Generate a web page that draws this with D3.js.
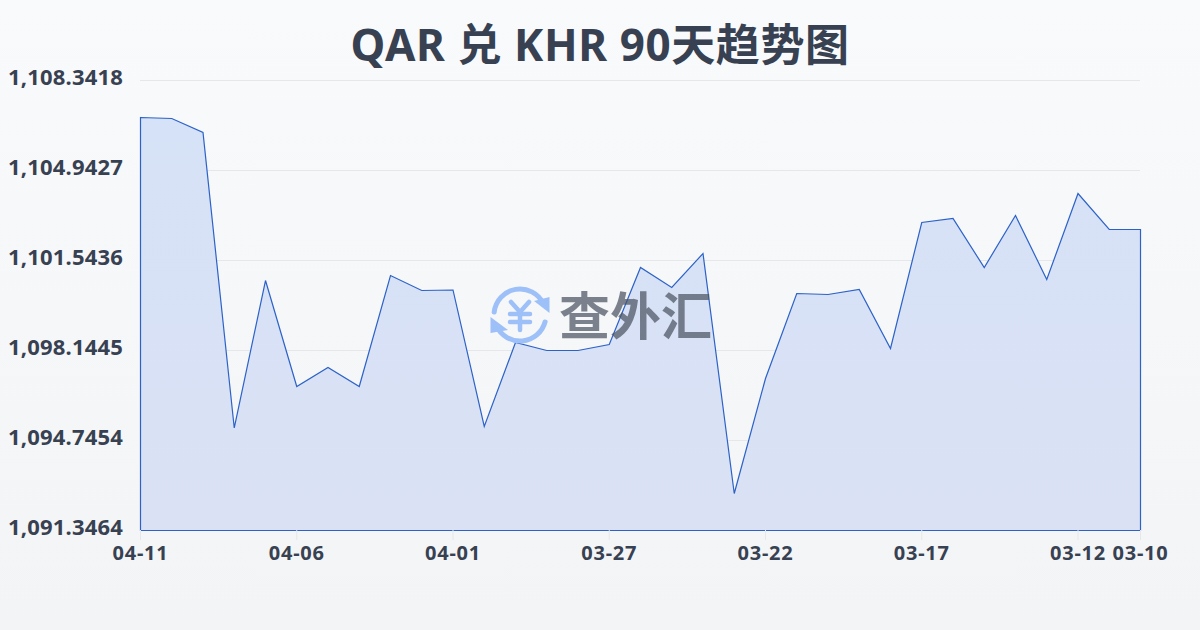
<!DOCTYPE html>
<html><head><meta charset="utf-8">
<script src="https://cdn.jsdelivr.net/npm/d3@7/dist/d3.min.js"></script>
<style>html,body{margin:0;padding:0;background:#f9fafb}svg{display:block}text{font-family:"Noto Sans","Noto Sans CJK SC",sans-serif}</style>
</head><body><svg id="c" width="1200" height="630"></svg>
<script>
const title = "QAR 兑 KHR 90天趋势图";
const dates = ["04-11","04-10","04-09","04-08","04-07","04-06","04-05","04-04","04-03","04-02","04-01","03-31","03-30","03-29","03-28","03-27","03-26","03-25","03-24","03-23","03-22","03-21","03-20","03-19","03-18","03-17","03-16","03-15","03-14","03-13","03-12","03-11","03-10"];
const rates = [1106.945,1106.907,1106.378,1095.218,1100.788,1096.785,1097.503,1096.785,1100.977,1100.411,1100.430,1095.274,1098.447,1098.145,1098.145,1098.371,1101.279,1100.524,1101.808,1092.744,1097.087,1100.297,1100.260,1100.448,1098.220,1102.979,1103.130,1101.279,1103.243,1100.826,1104.074,1102.714,1102.714];
const yTicks = [1091.3464,1094.7454,1098.1445,1101.5436,1104.9427,1108.3418];
const xTicks = ["04-11","04-06","04-01","03-27","03-22","03-17","03-12","03-10"];
const brand = "查外汇";

const svg = d3.select("#c");
const defs = svg.append("defs");
const bg = defs.append("linearGradient").attr("id","bg").attr("x1",0).attr("y1",0).attr("x2",0).attr("y2",1);
bg.append("stop").attr("offset",0).attr("stop-color","#f9fafc");
bg.append("stop").attr("offset",1).attr("stop-color","#f3f4f6");
const fg = defs.append("linearGradient").attr("id","fg").attr("gradientUnits","userSpaceOnUse").attr("x1",0).attr("y1",117).attr("x2",0).attr("y2",530);
fg.append("stop").attr("offset",0).attr("stop-color","#d6e2f7");
fg.append("stop").attr("offset",1).attr("stop-color","#dae1f4");
svg.append("rect").attr("width",1200).attr("height",630).attr("fill","url(#bg)");

const x = d3.scalePoint().domain(dates).range([140.5,1140.5]);
const y = d3.scaleLinear().domain([yTicks[0],yTicks[5]]).range([530.5,80.5]);
const ink = "#374151";

const gy = svg.append("g").attr("transform","translate(140,0)")
  .call(d3.axisLeft(y).offset(0).tickValues(yTicks).tickSize(-1000).tickFormat(d3.format(",.4f")));
gy.select(".domain").remove();
gy.selectAll("line").attr("stroke","#e5e7eb").attr("stroke-width",1);
gy.selectAll("text").attr("x",-132).attr("dy",0).attr("y",-2).attr("dominant-baseline","middle")
  .attr("text-anchor","start").attr("fill",ink).style("font-size","22px").style("font-weight",700)
  .style("letter-spacing","0.2px");

const areaPath = d3.area().x((d,i)=>x(dates[i])).y0(y.range()[0]).y1(d=>y(d));
svg.append("path").datum(rates).attr("d",areaPath).attr("fill","url(#fg)").attr("stroke","none");
svg.append("path").datum(rates).attr("d",areaPath).attr("fill","none").attr("stroke","#2c62c8").attr("stroke-width",1.2);

const gx = svg.append("g").attr("transform","translate(0,530)")
  .call(d3.axisBottom(x).offset(0).tickValues(xTicks).tickSize(10).tickPadding(6));
gx.select(".domain").remove();
gx.selectAll("line").attr("stroke","#e5e7eb");
gx.selectAll("text").attr("fill",ink).style("font-size","20px").style("font-weight",700)
  .style("letter-spacing","0.8px");

svg.append("text").attr("x",600).attr("y",61).attr("text-anchor","middle")
  .attr("fill",ink).style("font-size","44px").style("font-weight",700).style("letter-spacing","0.6px").text(title);

// watermark
const wm = svg.append("g").attr("transform","translate(520,315)");
const blue = "#9dc0f8";
const arc = d3.arc().innerRadius(23.5).outerRadius(28.5).cornerRadius(2);
wm.append("path").attr("d",arc({startAngle:-1.55,endAngle:1.2})).attr("fill",blue);
wm.append("path").attr("d",arc({startAngle:1.75,endAngle:4.35})).attr("fill",blue);
wm.append("path").attr("d",d3.line()([[14,-14],[29.5,-18],[29.5,-2]])+"Z").attr("fill",blue);
wm.append("path").attr("d",d3.line()([[-29.5,2],[-29.5,18],[-12,15]])+"Z").attr("fill",blue);
const yen = [[[-9,-13],[0,-3],[9,-13]],[[-10,-1],[10,-1]],[[-10,7],[10,7]],[[0,-3],[0,15]]];
yen.forEach(s=>wm.append("path").attr("d",d3.line()(s)).attr("fill","none").attr("stroke",blue).attr("stroke-width",4.5).attr("stroke-linecap","round").attr("stroke-linejoin","round"));
svg.append("text").attr("x",559).attr("y",335).attr("fill","#4b5563").attr("opacity",0.72)
  .style("font-size","51px").style("font-weight",700).text(brand);
</script></body></html>
